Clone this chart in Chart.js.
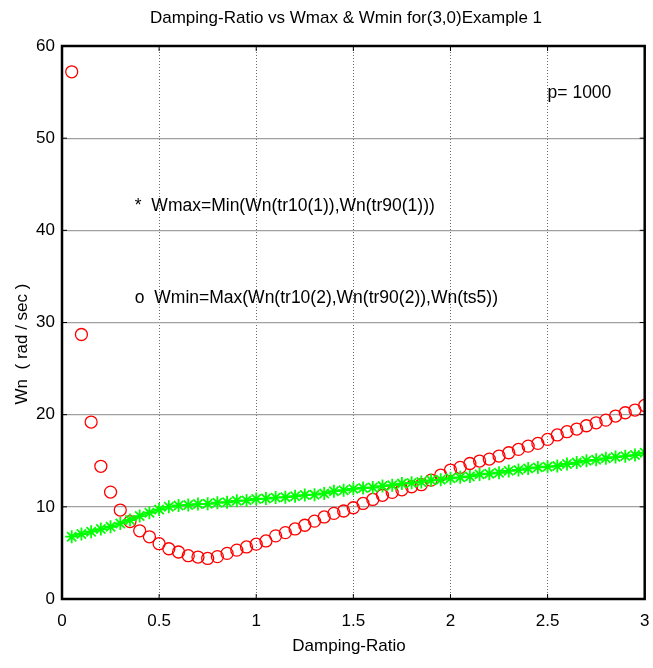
<!DOCTYPE html>
<html lang="en">
<head>
  <meta charset="UTF-8">
  <title>Damping-Ratio vs Wmax &amp; Wmin</title>
  <style>
    html, body { margin: 0; padding: 0; background: #fff; }
    #wrap { width: 653px; height: 668px; position: relative; }
  </style>
</head>
<body>
  <div id="wrap"><canvas id="chart"></canvas></div>

  <script src="https://cdn.jsdelivr.net/npm/chart.js"></script>
  <script>
    // damping ratios 0.05 .. 3.00
    const zeta = [
      0.05, 0.10, 0.15, 0.20, 0.25, 0.30, 0.35, 0.40, 0.45, 0.50,
      0.55, 0.60, 0.65, 0.70, 0.75, 0.80, 0.85, 0.90, 0.95, 1.00,
      1.05, 1.10, 1.15, 1.20, 1.25, 1.30, 1.35, 1.40, 1.45, 1.50,
      1.55, 1.60, 1.65, 1.70, 1.75, 1.80, 1.85, 1.90, 1.95, 2.00,
      2.05, 2.10, 2.15, 2.20, 2.25, 2.30, 2.35, 2.40, 2.45, 2.50,
      2.55, 2.60, 2.65, 2.70, 2.75, 2.80, 2.85, 2.90, 2.95, 3.00
    ];
    // Wmax = Min(Wn(tr10(1)), Wn(tr90(1)))
    const wmax = [
      6.76, 7.05, 7.30, 7.59, 7.84, 8.20, 8.57, 9.00, 9.36, 9.70,
      10.00, 10.15, 10.20, 10.30, 10.33, 10.45, 10.50, 10.65, 10.70, 10.85,
      10.90, 11.00, 11.05, 11.15, 11.28, 11.32, 11.45, 11.70, 11.80, 11.95,
      12.05, 12.10, 12.25, 12.35, 12.52, 12.60, 12.70, 12.88, 12.95, 13.10,
      13.20, 13.30, 13.52, 13.60, 13.70, 13.90, 14.00, 14.17, 14.28, 14.35,
      14.42, 14.65, 14.80, 15.00, 15.10, 15.26, 15.40, 15.50, 15.62, 15.87
    ];
    // Wmin = Max(Wn(tr10(2)), Wn(tr90(2)), Wn(ts5))
    const wmin = [
      57.2, 28.7, 19.2, 14.4, 11.6, 9.65, 8.4, 7.4, 6.75, 6.0,
      5.45, 5.1, 4.7, 4.55, 4.4, 4.6, 4.95, 5.3, 5.65, 5.95,
      6.3, 6.85, 7.2, 7.6, 8.0, 8.45, 8.9, 9.29, 9.55, 9.9,
      10.37, 10.8, 11.25, 11.57, 11.85, 12.18, 12.4, 12.9, 13.45, 13.99,
      14.28, 14.7, 14.97, 15.18, 15.51, 15.87, 16.23, 16.59, 16.88, 17.32,
      17.8, 18.15, 18.44, 18.8, 19.12, 19.41, 19.85, 20.21, 20.5, 21.0
    ];
    const xTicks = [0, 0.5, 1, 1.5, 2, 2.5, 3];
    const yTicks = [0, 10, 20, 30, 40, 50, 60];

    const FONT = '"Liberation Sans", Arial, sans-serif';

    // title, axis labels, annotations, box and inner tick marks
    const decorations = {
      id: 'decorations',
      afterDraw(chart) {
        const { ctx, chartArea: a, scales: { x, y } } = chart;
        ctx.save();
        ctx.fillStyle = '#000';

        ctx.font = '17px ' + FONT;
        ctx.textAlign = 'center';
        ctx.textBaseline = 'middle';
        ctx.fillText('Damping-Ratio vs Wmax & Wmin for(3,0)Example 1', 346, 18);

        ctx.fillText('Damping-Ratio', 349, 646);

        ctx.save();
        ctx.translate(22, 344);
        ctx.rotate(-Math.PI / 2);
        ctx.fillText('Wn  ( rad / sec )', 0, 0);
        ctx.restore();

        ctx.textAlign = 'left';
        ctx.font = '17.5px ' + FONT;
        ctx.fillText('*  Wmax=Min(Wn(tr10(1)),Wn(tr90(1)))', x.getPixelForValue(0.375), y.getPixelForValue(42.6));
        ctx.fillText('o  Wmin=Max(Wn(tr10(2),Wn(tr90(2)),Wn(ts5))', x.getPixelForValue(0.375), y.getPixelForValue(32.6));
        ctx.fillText('p= 1000', x.getPixelForValue(2.5), y.getPixelForValue(54.9));

        // axes box
        ctx.strokeStyle = '#000';
        ctx.lineWidth = 2.5;
        ctx.strokeRect(a.left, a.top, a.right - a.left, a.bottom - a.top);

        // inward tick marks
        ctx.lineWidth = 1;
        ctx.beginPath();
        xTicks.forEach(v => {
          const px = x.getPixelForValue(v);
          ctx.moveTo(px, a.bottom); ctx.lineTo(px, a.bottom - 5);
          ctx.moveTo(px, a.top); ctx.lineTo(px, a.top + 5);
        });
        yTicks.forEach(v => {
          const py = y.getPixelForValue(v);
          ctx.moveTo(a.left, py); ctx.lineTo(a.left + 5, py);
          ctx.moveTo(a.right, py); ctx.lineTo(a.right - 5, py);
        });
        ctx.stroke();
        ctx.restore();
      }
    };

    new Chart(document.getElementById('chart'), {
      type: 'scatter',
      data: {
        datasets: [
          {
            label: 'Wmax',
            data: zeta.map((z, i) => ({ x: z, y: wmax[i] })),
            showLine: true,
            borderColor: '#00ff00',
            borderWidth: 1.5,
            pointStyle: 'star',
            pointRadius: 6.5,
            pointBorderWidth: 1.8,
            pointBorderColor: '#00ff00',
            pointBackgroundColor: '#00ff00'
          },
          {
            label: 'Wmin',
            data: zeta.map((z, i) => ({ x: z, y: wmin[i] })),
            showLine: false,
            pointStyle: 'circle',
            pointRadius: 6,
            pointBorderWidth: 1.3,
            pointBorderColor: '#ff0000',
            pointBackgroundColor: 'rgba(0,0,0,0)'
          }
        ]
      },
      plugins: [decorations],
      options: {
        responsive: true,
        maintainAspectRatio: false,
        animation: false,
        layout: { padding: { top: 46, right: 4, left: 0, bottom: 0 } },
        plugins: {
          legend: { display: false },
          tooltip: { enabled: false }
        },
        scales: {
          x: {
            type: 'linear',
            min: 0,
            max: 3,
            afterFit(s) {
              s.height = 69;
              s.paddingLeft = 0;
              s.paddingRight = 0;
            },
            afterBuildTicks(s) { s.ticks = xTicks.map(v => ({ value: v })); },
            border: { display: false, dash: [1, 2] },
            grid: {
              color: '#444',
              lineWidth: 0.8,
              drawTicks: false
            },
            ticks: {
              color: '#000',
              padding: 12,
              maxRotation: 0,
              font: { family: FONT, size: 17 },
              callback: v => String(v)
            }
          },
          y: {
            type: 'linear',
            min: 0,
            max: 60,
            afterFit(s) {
              s.width = 62;
              s.paddingTop = 0;
              s.paddingBottom = 0;
            },
            afterBuildTicks(s) { s.ticks = yTicks.map(v => ({ value: v })); },
            border: { display: false },
            grid: {
              color: '#a0a0a0',
              lineWidth: 1.2,
              drawTicks: false
            },
            ticks: {
              color: '#000',
              padding: 7,
              font: { family: FONT, size: 17 },
              callback: v => String(v)
            }
          }
        }
      }
    });
  </script>
</body>
</html>
